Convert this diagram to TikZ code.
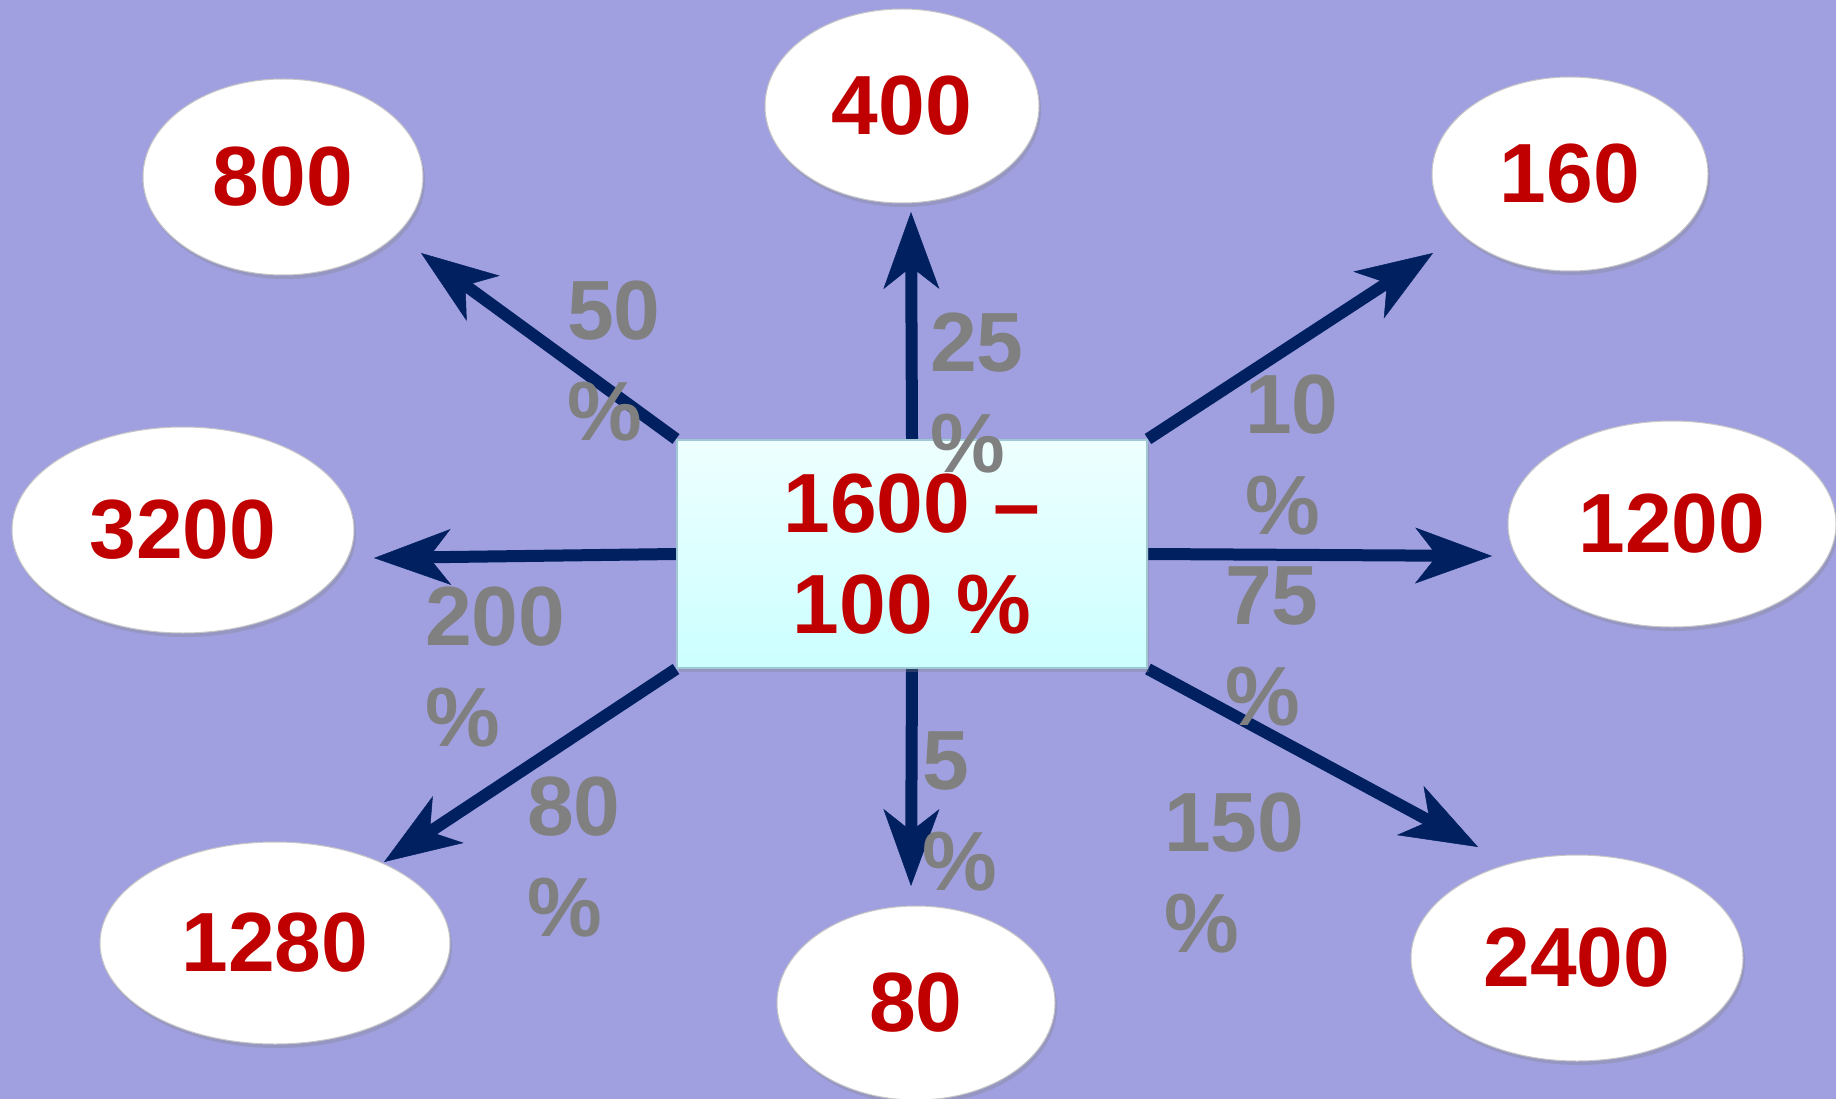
\documentclass[tikz,border=0pt]{standalone}
\usepackage{fontspec}
\setmainfont{Liberation Sans}
\usetikzlibrary{arrows.meta,shapes.geometric,shadows}
\definecolor{bgc}{RGB}{160,160,224}
\definecolor{numred}{RGB}{192,0,0}
\definecolor{pctgray}{RGB}{128,128,128}
\definecolor{navyc}{RGB}{0,32,96}
\definecolor{boxtop}{RGB}{238,255,255}
\definecolor{boxbot}{RGB}{204,255,255}
\definecolor{boxline}{RGB}{160,200,210}
\pgfdeclarelayer{back}
\pgfdeclarelayer{mid}
\pgfsetlayers{back,mid,main}
\begin{document}
\begin{tikzpicture}[x=1pt,y=-1pt,
  bignum/.style={font=\bfseries\fontsize{84}{101}\selectfont},
  val/.style={ellipse, fill=white, draw=gray!45, line width=1pt, inner sep=0pt, bignum, text=numred,
    drop shadow={shadow xshift=2pt, shadow yshift=-4pt, opacity=0.3}},
  pct/.style={anchor=north west, inner sep=0pt, align=left, bignum, text=pctgray},
  arr/.style={draw=navyc, line width=12pt, -{Stealth[length=77pt,width=56pt,inset=22pt,line width=0.5pt]}}
]
\begin{pgfonlayer}{back}
\fill[bgc] (0,0) rectangle (1836,1099);
\end{pgfonlayer}
\useasboundingbox (0,0) rectangle (1836,1099);

% value ellipses
\node[val, minimum width=274pt, minimum height=194pt] (n400) at (902,106) {400};
\node[val, minimum width=280pt, minimum height=196pt] (n800) at (283,177) {800};
\node[val, minimum width=276pt, minimum height=194pt] (n160) at (1570,174) {160};
\node[val, minimum width=342pt, minimum height=206pt] (n3200) at (183,530) {3200};
\node[val, minimum width=328pt, minimum height=206pt] (n1200) at (1672,524) {1200};
\node[val, minimum width=350pt, minimum height=202pt] (n1280) at (275,943) {1280};
\node[val, minimum width=278pt, minimum height=194pt] (n80) at (916,1003) {80};
\node[val, minimum width=332pt, minimum height=206pt] (n2400) at (1577,958) {2400};

% central box
\node[draw=boxline, line width=2pt, top color=boxtop, bottom color=boxbot,
  minimum width=470pt, minimum height=228pt, inner sep=0pt, align=center,
  bignum, text=numred, drop shadow={shadow xshift=2pt, shadow yshift=-4pt, opacity=0.3}]
  (c) at (912,554) {1600 –\\100 \%};

% arrow tips
\coordinate (t400) at (911,212);
\coordinate (t80) at (911,886);
\coordinate (t3200) at (374,558);
\coordinate (t1200) at (1492,556);
\coordinate (t800) at (421,253);
\coordinate (t160) at (1433,253);
\coordinate (t1280) at (384,862);
\coordinate (t2400) at (1478,847);

\begin{pgfonlayer}{mid}
\draw[arr] (c.north) -- (t400);
\draw[arr] (c.south) -- (t80);
\draw[arr] (c.west) -- (t3200);
\draw[arr] (c.east) -- (t1200);
\draw[arr] (c.north west) -- (t800);
\draw[arr] (c.north east) -- (t160);
\draw[arr] (c.south west) -- (t1280);
\draw[arr] (c.south east) -- (t2400);
\end{pgfonlayer}

% percentage labels
\node[pct] (p50) at (567,281) {50\\\%};
\node[pct] (p25) at (930,313) {25\\\%};
\node[pct] (p10) at (1245,375) {10\\\%};
\node[pct] (p200) at (425,587) {200\\\%};
\node[pct] (p75) at (1225,567) {75\\\%};
\node[pct] (p80) at (527,777) {80\\\%};
\node[pct] (p5) at (922,732) {5\\\%};
\node[pct] (p150) at (1164,793) {150\\\%};
\end{tikzpicture}
\end{document}
